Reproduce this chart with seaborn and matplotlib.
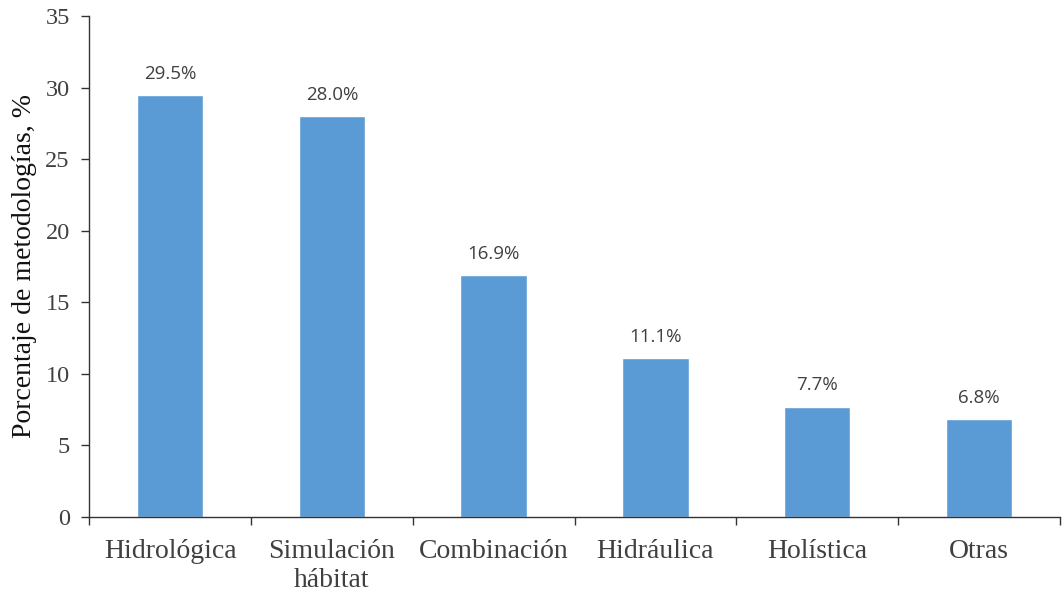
import pandas as pd
import seaborn as sns
import matplotlib.pyplot as plt
from matplotlib.ticker import FixedLocator

# Datos del gráfico
categorias = ["Hidrológica", "Simulación\nhábitat", "Combinación", "Hidráulica", "Holística", "Otras"]
porcentajes = [29.5, 28.0, 16.9, 11.1, 7.7, 6.8]
etiquetas = ["29.5%", "28.0%", "16.9%", "11.1%", "7.7%", "6.8%"]

df = pd.DataFrame({"Metodología": categorias, "Porcentaje": porcentajes})

sns.set_style("white")
plt.rcParams['font.family'] = ['Liberation Serif', 'DejaVu Serif']

fig = plt.figure(figsize=(10.62, 5.96), dpi=100)
ax = fig.add_axes([0.084, 0.133, 0.914, 0.84])

sns.barplot(data=df, x="Metodología", y="Porcentaje", color="#5B9BD5",
            width=0.41, saturation=1, ax=ax)

# Etiquetas de valor sobre las barras
for i, (v, t) in enumerate(zip(porcentajes, etiquetas)):
    ax.text(i, v + 0.85, t, ha='center', va='bottom', fontsize=13.5,
            family=['Open Sans', 'DejaVu Sans'], color='#404040')

ax.set_xlim(-0.5, len(categorias) - 0.5)
ax.set_ylim(0, 35)
ax.set_yticks(range(0, 36, 5))
ax.set_xlabel("")
ax.set_ylabel("Porcentaje de metodologías, %", fontsize=20, color='#111111', labelpad=6)

# Marcas entre categorías en el eje x
ax.xaxis.set_minor_locator(FixedLocator([i - 0.5 for i in range(len(categorias) + 1)]))
ax.tick_params(axis='x', which='both', bottom=True)
ax.tick_params(axis='x', which='major', length=0, labelsize=20, labelcolor='#404040', pad=16)
ax.tick_params(axis='x', which='minor', length=6, width=1, color='#333333', direction='out')
ax.tick_params(axis='y', left=True, length=6, width=1, labelsize=17.5, color='#333333',
               labelcolor='#404040', direction='out', pad=8)

for s in ['top', 'right']:
    ax.spines[s].set_visible(False)
for s in ['left', 'bottom']:
    ax.spines[s].set_color('#333333')
    ax.spines[s].set_linewidth(1)

for lbl in ax.get_xticklabels():
    lbl.set_linespacing(1.2)

plt.savefig("out.png", dpi=100)
plt.close()
